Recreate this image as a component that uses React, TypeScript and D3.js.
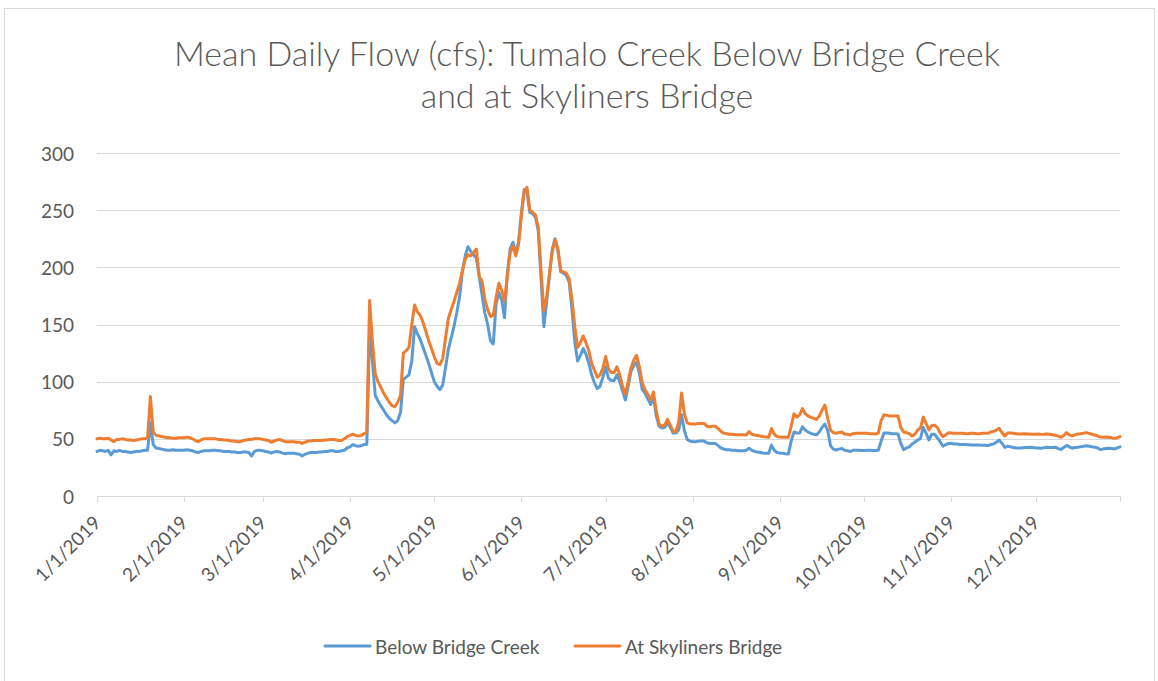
import React from 'react';
import * as d3 from 'd3';

const startDate = new Date(2019, 0, 1);
const endDate = new Date(2019, 11, 31);

const titleLines = ['Mean Daily Flow (cfs): Tumalo Creek Below Bridge Creek', 'and at Skyliners Bridge'];
const seriesNames = ['Below Bridge Creek', 'At Skyliners Bridge'];
const seriesColors = ['#5B9BD5', '#ED7D31'];
const yTicks = [0, 50, 100, 150, 200, 250, 300];
const xTickLabels = ['1/1/2019', '2/1/2019', '3/1/2019', '4/1/2019', '5/1/2019', '6/1/2019', '7/1/2019', '8/1/2019', '9/1/2019', '10/1/2019', '11/1/2019', '12/1/2019'];

// Daily mean flow (cfs), Jan 1 – Dec 31 2019
const belowBridgeCreek = [
  // Jan
  39, 40, 39.5, 39, 40, 36, 39.5, 39, 40, 39, 39, 38.5, 38, 38.5, 39, 39, 39.5, 40, 40, 64, 45, 42, 41.5, 41, 40.5, 40, 40, 40.5, 40, 40, 40,
  // Feb
  40, 40.5, 40, 39.5, 38.5, 38, 39, 39.5, 39.5, 39.5, 40, 40, 39.5, 39.5, 39, 39, 39, 38.5, 38.5, 38, 38, 38.5, 38.5, 38, 35, 39, 40, 40,
  // Mar
  39.5, 39, 38.5, 37.5, 38.5, 39, 38.5, 37.5, 37, 37.5, 37.5, 37.5, 37, 36.5, 35, 36.5, 37.5, 38, 38, 38, 38.5, 38.5, 39, 39, 39.5, 39.5, 39, 39, 39.5, 40, 42,
  // Apr
  43, 45, 44, 43.5, 44, 45, 45, 145, 118, 88, 83, 79, 75, 71, 68, 66, 64, 66, 73, 102, 104, 106, 118, 148, 142, 137, 130, 123, 116, 108,
  // May
  100, 96, 93, 97, 112, 128, 138, 148, 160, 174, 196, 210, 218, 214, 211, 208, 192, 176, 160, 150, 136, 133, 168, 178, 171, 156, 195, 216, 222, 212, 222,
  // Jun
  248, 268, 266, 248, 247, 244, 232, 190, 148, 170, 193, 216, 225, 215, 196, 195, 193, 187, 163, 135, 118, 123, 129, 124, 116, 106, 99, 94, 96, 104,
  // Jul
  113, 103, 101, 101, 106, 100, 92, 84, 96, 109, 114, 117, 107, 93, 90, 85, 80, 87, 70, 61, 59.5, 60, 64, 60, 55, 55, 58, 71, 57, 49.5, 48,
  // Aug
  47.5, 47.5, 48, 48, 48, 46.5, 46, 46, 46, 44, 42, 41, 40.5, 40.5, 40, 40, 39.5, 39.5, 39.5, 40, 41.7, 40, 39, 38.5, 38, 37.5, 37.5, 37.3, 44.5, 40, 38,
  // Sep
  37.5, 37.3, 37, 36.8, 48, 56, 55, 55, 60.5, 57.7, 56, 54.8, 54, 53.5, 56, 60, 63, 57, 44, 41, 40.2, 41, 41.5, 40, 39.5, 39, 40, 40, 40, 39.8,
  // Oct
  39.8, 40, 40, 39.8, 39.8, 40, 48, 55, 55, 54.8, 54.5, 54.5, 54.2, 46, 40.5, 42, 43, 45.5, 47, 49, 50.4, 60, 55, 49, 54, 54, 51, 47.5, 43.5, 45, 46,
  // Nov
  46, 45.5, 45.5, 45, 45, 45, 44.8, 44.6, 44.6, 44.5, 44.5, 44.3, 44.3, 44, 45, 45.5, 47, 49, 46, 42.5, 43.5, 43, 42.5, 42, 42, 42, 42.5, 42.5, 42.7, 42.5,
  // Dec
  42, 42, 41.8, 42.3, 42.7, 42.5, 42.5, 42.7, 41.5, 40.7, 42.5, 44.2, 43, 41.8, 42.5, 42.7, 43, 43.5, 44, 43.5, 43, 42.7, 42, 40.7, 41.2, 41.5, 41.8, 41.5, 41.2, 42, 43,
];

const atSkylinersBridge = [
  // Jan
  50, 50.5, 50, 50, 50.5, 49, 47.5, 49.5, 49.5, 50, 49.5, 49, 49, 48.5, 49, 49.5, 50, 50, 51, 87, 56, 53, 52.5, 52, 51.5, 51, 51, 50.5, 50.5, 51, 51,
  // Feb
  51, 51.5, 51, 50, 48.5, 47.5, 49, 50, 50, 50, 50, 50, 49.5, 49.5, 49, 49, 48.5, 48, 48, 47.5, 47.5, 48.5, 49, 49.5, 49.5, 50, 50, 50,
  // Mar
  49.5, 49, 48.5, 47, 48, 49, 49.5, 48.5, 47.5, 47.5, 47.5, 47.5, 47, 47, 46, 47, 48, 48, 48.5, 48.5, 48.5, 48.5, 49, 49, 49.5, 49.5, 49, 48.5, 48.5, 50, 52,
  // Apr
  53, 54, 53, 52.5, 53, 54.5, 56, 171, 135, 107, 100, 95, 90, 86, 82, 79, 78, 82, 88, 125, 127, 130, 150, 167, 161, 158, 152, 144, 136, 129,
  // May
  122, 116, 115, 120, 138, 155, 163, 170, 178, 186, 197, 207, 211, 210, 213, 216, 192, 188, 172, 163, 157, 158, 174, 186, 180, 170, 192, 213, 219, 210, 220,
  // Jun
  245, 266, 270, 250, 248, 246, 235, 197, 162, 174, 195, 214, 224, 216, 197, 196, 195, 190, 172, 148, 130, 134, 140, 134, 127, 116, 110, 104, 106, 112,
  // Jul
  122, 111, 108, 108, 113, 106, 96, 89, 100, 112, 119, 123, 113, 99, 93, 89, 84, 91, 74, 63, 61, 62, 67, 62, 56.5, 56.5, 65, 90, 72, 64, 63,
  // Aug
  63, 63, 63.5, 63.5, 63.5, 61, 60.5, 61, 61, 59, 56.5, 55, 54.5, 54, 54, 53.5, 53.5, 53.5, 53.5, 53.4, 56.3, 54, 53.4, 53, 52.5, 52, 51.5, 51.3, 59, 54, 52,
  // Sep
  51.5, 51.3, 51.3, 51.3, 61, 72, 69, 71, 76.5, 72, 70, 68.8, 68, 67, 70, 75, 79.6, 68, 57.7, 55.5, 54.8, 55.5, 56, 54.2, 54, 53.4, 54.5, 54.8, 54.8, 54.8,
  // Oct
  54.8, 54.8, 54.5, 54.5, 54.2, 55, 66, 71, 70.5, 70, 70, 70, 70, 60, 56, 55.5, 54.5, 52.5, 54, 57.7, 59.5, 69, 63.5, 57.7, 61.5, 62, 60, 55, 52, 53.5, 55.4,
  // Nov
  55, 54.8, 54.8, 54.8, 54.8, 54.5, 54.5, 54.8, 54.8, 54.5, 54.5, 54.8, 54.8, 54.8, 56, 56.5, 57.5, 59.2, 55.5, 52.5, 55, 55, 54.8, 54.5, 54.2, 54.2, 54.5, 54.2, 54.2, 54,
  // Dec
  54, 54.2, 53.9, 54, 54.2, 54, 53.5, 53, 52.5, 51.3, 53, 55.4, 53.5, 52.5, 53.5, 54.2, 54.5, 55, 55.4, 54.8, 54, 53.4, 52.5, 51.5, 51.3, 51.5, 51.3, 51, 50.4, 51, 52,
];

const FONT = "Lato, 'Open Sans', 'Liberation Sans', sans-serif";
const TEXT = '#595959';
const GRID = '#D9D9D9';

export default function App() {
  const W = 1158;
  const H = 681;
  const x = d3.scaleTime().domain([startDate, endDate]).range([97, 1120]);
  const y = d3.scaleLinear().domain([0, 300]).range([496, 153]);
  const dates = belowBridgeCreek.map((_, i) => d3.timeDay.offset(startDate, i));
  const monthTicks = d3.timeMonth.range(startDate, endDate);
  const tickPositions = [...monthTicks.map((d) => x(d)), x(endDate)];

  const line = d3
    .line<number>()
    .x((_, i) => x(dates[i]))
    .y((d) => y(d));

  const series = [belowBridgeCreek, atSkylinersBridge];

  return (
    <svg
      width={W}
      height={H}
      style={{ position: 'absolute', left: 0, top: 0, display: 'block', background: '#fff' }}
      fontFamily={FONT}
    >
      <rect x={4.5} y={8.5} width={1150} height={680} fill="#fff" stroke={GRID} strokeWidth={1} />
      {titleLines.map((t, i) => (
        <text key={t} x={587} y={66 + i * 42} textAnchor="middle" fontSize={34} fontWeight={300} fill={TEXT}>
          {t}
        </text>
      ))}
      {yTicks.map((v) => (
        <g key={v}>
          <line x1={97} x2={1120} y1={Math.round(y(v)) + 0.5} y2={Math.round(y(v)) + 0.5} stroke={GRID} strokeWidth={1} />
          <text x={74} y={y(v)} textAnchor="end" dominantBaseline="central" fontSize={19} fill={TEXT}>
            {v}
          </text>
        </g>
      ))}
      {tickPositions.map((px, i) => (
        <line key={i} x1={Math.round(px) + 0.5} x2={Math.round(px) + 0.5} y1={496} y2={502} stroke={GRID} strokeWidth={1} />
      ))}
      {monthTicks.map((d, i) => (
        <text
          key={i}
          transform={`translate(${x(d) + 5},${524}) rotate(-45)`}
          textAnchor="end"
          fontSize={19}
          fill={TEXT}
        >
          {xTickLabels[i]}
        </text>
      ))}
      {series.map((s, i) => (
        <path
          key={i}
          d={line(s) || ''}
          fill="none"
          stroke={seriesColors[i]}
          strokeWidth={3}
          strokeLinejoin="round"
          strokeLinecap="round"
        />
      ))}
      {seriesNames.map((n, i) => {
        const lx = 325 + i * 250;
        return (
          <g key={n}>
            <line x1={lx} x2={lx + 45} y1={646} y2={646} stroke={seriesColors[i]} strokeWidth={3} strokeLinecap="round" />
            <text x={lx + 50} y={646} dominantBaseline="central" fontSize={19} fill={TEXT}>
              {n}
            </text>
          </g>
        );
      })}
    </svg>
  );
}
